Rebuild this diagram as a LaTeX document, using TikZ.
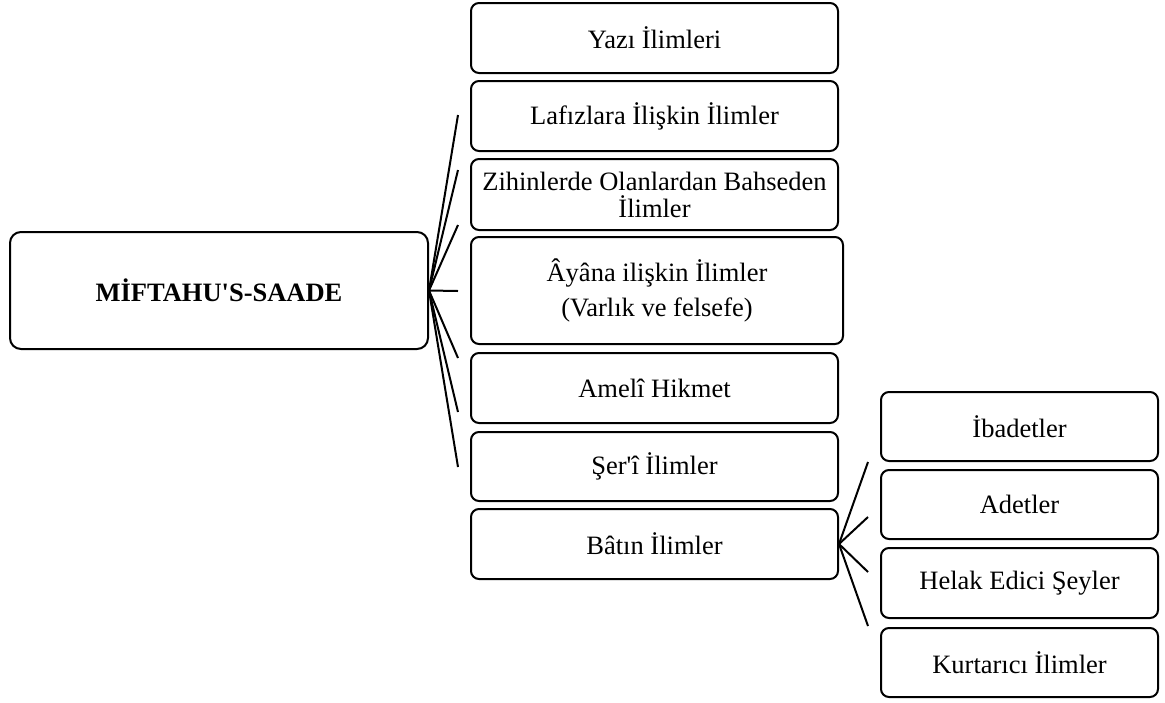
\documentclass[tikz,border=0pt]{standalone}
\usepackage{fontspec}
\setmainfont{Liberation Serif}
\font\qreg="Liberation Serif" at 26.5pt
\font\qbold="Liberation Serif/B" at 26.5pt
\newcommand{\sqr}{{\qreg'}}
\newcommand{\sqb}{{\qbold'}}
\begin{document}
\begin{tikzpicture}[x=1pt,y=-1pt,
  box/.style={draw, line width=2pt, rounded corners=8pt, align=center, inner sep=0pt,
    font=\fontsize{26.5}{27}\selectfont},
  link/.style={line width=2pt}]
\useasboundingbox (0,0) rectangle (1165,702);
% main node
\node[box, rounded corners=11pt, minimum width=418, minimum height=117, font=\fontsize{26.5}{27}\selectfont\bfseries] (main) at (219,290.5) {MİFTAHU\sqb S-SAADE};
% first column
\node[box, minimum width=367, minimum height=70] (yazi) at (654.5,38) {Yazı İlimleri};
\node[box, minimum width=367, minimum height=70] (lafiz) at (654.5,116) {Lafızlara İlişkin İlimler};
\node[box, minimum width=367, minimum height=71] (zihin) at (654.5,194.5) {Zihinlerde Olanlardan Bahseden\\İlimler};
\node[box, minimum width=372, minimum height=107, font=\fontsize{26.5}{35}\selectfont] (ayan) at (657,290.5) {Âyâna ilişkin İlimler\\(Varlık ve felsefe)};
\node[box, minimum width=367, minimum height=70] (ameli) at (654.5,388) {Amelî Hikmet};
\node[box, minimum width=367, minimum height=69] (seri) at (654.5,466.5) {Şer\sqr î İlimler};
\node[box, minimum width=367, minimum height=70] (batin) at (654.5,544) {Bâtın İlimler};
% second column
\node[box, minimum width=277, minimum height=69] (ibadet) at (1019.5,426.5) {İbadetler};
\node[box, minimum width=277, minimum height=69] (adet) at (1019.5,504.5) {Adetler};
\node[box, minimum width=277, minimum height=70] (helak) at (1019.5,583) {Helak Edici Şeyler};
\node[box, minimum width=277, minimum height=69] (kurtar) at (1019.5,662.5) {Kurtarıcı İlimler};
% connector ends
\coordinate (m1) at (458,115);
\coordinate (m2) at (458,170);
\coordinate (m3) at (458,225);
\coordinate (m4) at (458,291);
\coordinate (m5) at (458,358);
\coordinate (m6) at (458,412);
\coordinate (m7) at (458,467);
\coordinate (b1) at (868,462);
\coordinate (b2) at (868,517);
\coordinate (b3) at (868,572);
\coordinate (b4) at (868,626);
\foreach \e in {m1,m2,m3,m4,m5,m6,m7} \draw[link] (main.east) -- (\e);
\foreach \e in {b1,b2,b3,b4} \draw[link] (batin.east) -- (\e);
\end{tikzpicture}
\end{document}
